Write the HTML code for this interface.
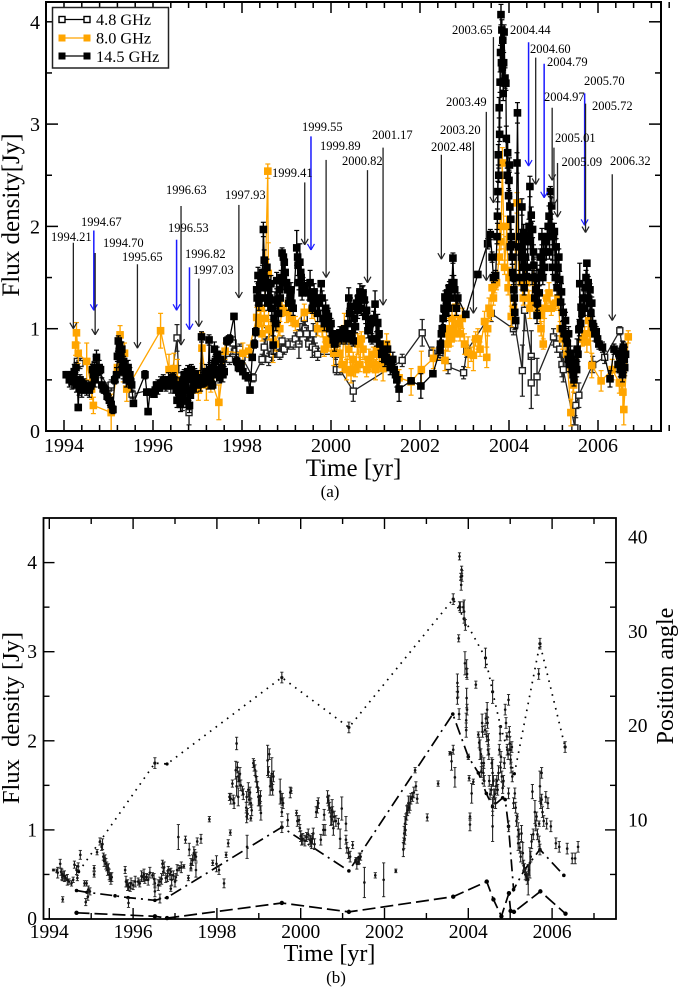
<!DOCTYPE html>
<html>
<head>
<meta charset="utf-8">
<title>Flux density light curves</title>
<style>
html,body{margin:0;padding:0;background:#fff;}
svg{display:block;}
text{font-family:"Liberation Serif",serif;fill:#000;}
</style>
</head>
<body>
<svg id="chart" xmlns="http://www.w3.org/2000/svg" width="679" height="987" viewBox="0 0 679 987">
<g id="a-back"></g>
<g id="a-arrows"></g>
<g id="a-ticks"></g>
<rect x="46" y="2" width="615" height="429" fill="none" stroke="#000" stroke-width="2"/>
<g font-size="12.5">
<text x="51" y="241">1994.21</text>
<text x="81" y="226">1994.67</text>
<text x="103" y="247">1994.70</text>
<text x="122" y="261">1995.65</text>
<text x="166" y="194">1996.63</text>
<text x="168" y="232">1996.53</text>
<text x="185" y="258">1996.82</text>
<text x="193" y="274">1997.03</text>
<text x="225" y="199">1997.93</text>
<text x="272" y="177">1999.41</text>
<text x="302" y="131">1999.55</text>
<text x="320" y="150">1999.89</text>
<text x="342" y="165">2000.82</text>
<text x="372" y="139">2001.17</text>
<text x="431" y="151">2002.48</text>
<text x="440" y="134">2003.20</text>
<text x="446" y="106">2003.49</text>
<text x="452" y="34">2003.65</text>
<text x="510" y="34">2004.44</text>
<text x="530" y="53">2004.60</text>
<text x="547" y="66">2004.79</text>
<text x="544" y="101">2004.97</text>
<text x="555" y="142">2005.01</text>
<text x="561.5" y="166">2005.09</text>
<text x="584" y="85">2005.70</text>
<text x="592" y="110">2005.72</text>
<text x="610" y="165">2006.32</text>
</g>
<g id="legend">
<rect x="52.5" y="7.5" width="116" height="60.5" fill="#fff" stroke="#222" stroke-width="1.5"/>
<g>
<line x1="62" y1="19.5" x2="87" y2="19.5" stroke="#000" stroke-width="1.2"/>
<rect x="59" y="16.5" width="6" height="6" fill="#fff" stroke="#000" stroke-width="1.4"/>
<rect x="84" y="16.5" width="6" height="6" fill="#fff" stroke="#000" stroke-width="1.4"/>
<text x="96" y="25" font-size="16.3">4.8 GHz</text>
</g>
<g>
<line x1="62" y1="38" x2="87" y2="38" stroke="#ffa500" stroke-width="1.2"/>
<rect x="58.5" y="34.5" width="7" height="7" fill="#ffa500"/>
<rect x="83.5" y="34.5" width="7" height="7" fill="#ffa500"/>
<text x="96" y="43.5" font-size="16.3">8.0 GHz</text>
</g>
<g>
<line x1="62" y1="56" x2="87" y2="56" stroke="#000" stroke-width="1.2"/>
<rect x="58.5" y="52.5" width="7" height="7" fill="#000"/>
<rect x="83.5" y="52.5" width="7" height="7" fill="#000"/>
<text x="96" y="62" font-size="16.3">14.5 GHz</text>
</g>
</g>
<text transform="translate(19,215) rotate(-90)" text-anchor="middle" font-size="25">Flux density[Jy]</text>
<text x="353.5" y="476" text-anchor="middle" font-size="25">Time [yr]</text>
<text x="330" y="497" text-anchor="middle" font-size="17">(a)</text>

<g id="b-lines"></g>
<g id="b-back"></g>
<g id="b-ticks"></g>
<rect x="43.5" y="518" width="572.5" height="401" fill="none" stroke="#000" stroke-width="1.8"/>
<text transform="translate(19,718) rotate(-90)" text-anchor="middle" font-size="24.5" xml:space="preserve">Flux  density [Jy]</text>
<text transform="translate(673,676) rotate(-90)" text-anchor="middle" font-size="24">Position angle</text>
<text x="329.5" y="961" text-anchor="middle" font-size="24">Time [yr]</text>
<text x="336" y="983" text-anchor="middle" font-size="17">(b)</text>
</svg>
<script>
/* ---------- panel (a) data ---------- */
var t14=[1994.05,1994.10,1994.15,1994.21,1994.25,1994.27,1994.30,1994.32,1994.36,1994.42,1994.48,1994.54,1994.60,1994.64,1994.68,1994.73,1994.76,1994.82,1994.88,1994.93,1994.97,1995.02,1995.06,1995.10,1995.14,1995.20,1995.22,1995.25,1995.28,1995.31,1995.34,1995.38,1995.42,1995.46,1995.50,1995.56,1995.82,1995.86,1995.89,1995.93,1996.02,1996.08,1996.14,1996.20,1996.26,1996.32,1996.38,1996.44,1996.50,1996.54,1996.58,1996.62,1996.66,1996.70,1996.74,1996.78,1996.82,1996.86,1996.90,1996.94,1997.00,1997.04,1997.09,1997.13,1997.18,1997.22,1997.26,1997.30,1997.34,1997.38,1997.42,1997.46,1997.50,1997.55,1997.60,1997.66,1997.72,1997.82,1997.88,1997.92,1997.98,1998.02,1998.08,1998.14,1998.18,1998.23,1998.28,1998.31,1998.33,1998.36,1998.40,1998.44,1998.48,1998.50,1998.53,1998.56,1998.60,1998.65,1998.70,1998.74,1998.78,1998.82,1998.86,1998.90,1998.93,1998.97,1999.02,1999.08,1999.12,1999.23,1999.26,1999.30,1999.33,1999.37,1999.53,1999.55,1999.58,1999.62,1999.70,1999.78,1999.82,1999.88,1999.94,2000.00,2000.05,2000.12,2000.20,2000.28,2000.34,2000.40,2000.44,2000.50,2000.55,2000.60,2000.65,2000.70,2000.75,2000.80,2000.85,2000.92,2000.99,2001.05,2001.10,2001.18,2001.24,2001.30,2001.36,2001.42,2001.53,2001.80,2002.02,2002.29,2002.45,2002.48,2002.52,2002.56,2002.60,2002.66,2002.70,2002.74,2002.78,2002.85,2003.03,2003.30,2003.52,2003.58,2003.62,2003.65,2003.70,2003.75,2003.76,2003.78,2003.80,2003.82,2003.84,2003.85,2003.86,2003.88,2003.91,2003.94,2003.97,2004.00,2004.02,2004.04,2004.06,2004.08,2004.11,2004.13,2004.15,2004.18,2004.19,2004.22,2004.29,2004.33,2004.36,2004.39,2004.43,2004.47,2004.50,2004.53,2004.56,2004.60,2004.63,2004.66,2004.70,2004.74,2004.78,2004.82,2004.86,2004.90,2004.93,2004.96,2005.00,2005.02,2005.06,2005.12,2005.14,2005.16,2005.18,2005.22,2005.27,2005.31,2005.34,2005.38,2005.42,2005.46,2005.48,2005.50,2005.53,2005.57,2005.59,2005.62,2005.67,2005.71,2005.75,2005.78,2005.82,2005.86,2005.90,2005.96,2006.02,2006.10,2006.27,2006.36,2006.47,2006.53,2006.57,2006.60];
var f14=[.55,.55,.52,.53,.50,.62,.48,.23,.50,.46,.43,.41,.44,.60,.62,.72,.58,.60,.42,.40,.34,.30,.26,.21,.50,.73,.88,.84,.75,.62,.68,.60,.55,.52,.48,.27,.55,.38,.19,.38,.36,.45,.42,.47,.50,.44,.47,.52,.45,.30,.38,.26,.48,.55,.30,.58,.25,.60,.42,.56,.50,.46,.92,.47,.55,.50,.89,.58,.45,.80,.60,.70,.52,.62,.58,.88,.90,1.12,.68,.62,.65,.58,.54,.52,.40,.72,.85,.97,1.38,1.52,1.30,1.45,1.97,1.67,1.48,1.60,1.40,1.44,.84,1.28,1.47,1.15,1.30,1.74,1.70,1.55,1.38,1.32,1.25,1.79,1.62,1.65,1.50,1.42,1.45,1.30,1.20,1.36,1.15,1.44,1.10,1.20,1.12,1.05,.89,.92,.96,.98,.90,1.30,1.22,.88,1.02,1.18,1.36,1.33,1.28,1.18,1.02,.90,1.24,1.06,.85,.78,.72,.68,.64,.60,.41,.49,.44,.56,.79,.95,1.10,1.31,1.25,1.40,1.38,1.69,1.38,1.30,1.14,1.53,1.83,1.92,1.70,1.50,1.52,2.34,2.70,3.16,3.41,4.07,3.92,3.55,3.82,3.60,3.45,2.86,2.72,2.45,2.19,2.07,1.82,1.55,1.38,1.16,1.08,2.62,3.11,1.80,2.19,1.94,1.86,1.51,1.90,2.39,2.11,1.97,1.62,1.38,1.13,1.50,1.70,1.90,1.75,1.85,1.90,2.10,2.34,2.20,1.90,1.95,1.80,1.70,1.48,1.26,1.36,1.16,1.08,.86,.95,.76,.60,.50,.62,.66,.80,.99,1.44,1.21,1.30,1.40,1.64,1.45,1.38,1.25,1.02,.97,.85,.82,.51,.80,.76,.72,.82,.62];
var e14=[.03,.03,.03,.04,.04,.05,.05,.03,.05,.04,.04,.04,.04,.05,.05,.07,.04,.04,.05,.04,.04,.05,.04,.04,.04,.05,.05,.04,.05,.05,.05,.05,.05,.05,.05,.03,.04,.03,.03,.03,.03,.03,.03,.03,.03,.03,.03,.04,.03,.07,.05,.07,.05,.05,.07,.06,.07,.05,.05,.05,.05,.04,.05,.04,.04,.04,.05,.05,.04,.07,.05,.05,.05,.05,.05,.04,.04,.03,.04,.04,.04,.03,.03,.03,.03,.03,.04,.04,.08,.08,.08,.08,.07,.10,.08,.08,.08,.08,.09,.08,.08,.09,.08,.05,.05,.08,.08,.08,.08,.17,.10,.18,.08,.08,.12,.08,.05,.08,.08,.03,.08,.08,.08,.05,.05,.06,.06,.05,.05,.10,.08,.05,.06,.08,.08,.08,.08,.08,.06,.05,.13,.08,.06,.05,.05,.05,.05,.05,.12,.03,.12,.03,.05,.06,.06,.06,.05,.06,.06,.05,.05,.05,.03,.03,.05,.05,.05,.05,.05,.10,.10,.10,.10,.10,.10,.10,.10,.10,.10,.12,.10,.10,.10,.10,.10,.08,.08,.08,.08,.10,.10,.08,.08,.08,.08,.08,.08,.10,.08,.08,.08,.08,.08,.08,.08,.08,.08,.08,.08,.10,.05,.08,.08,.08,.08,.08,.08,.08,.08,.08,.08,.08,.07,.07,.06,.06,.06,.06,.10,.10,.20,.10,.08,.08,.03,.06,.06,.06,.06,.05,.05,.05,.08,.05,.05,.05,.05,.05];
/* additional readings in the crowded stretches (default error bar) */
var t14Dense=[1994.12,1994.18,1994.23,1994.28,1994.34,1994.40,1994.45,1994.51,1994.57,1994.66,1994.70,1994.79,1994.85,1995.18,1995.24,1995.27,1995.30,1995.33,1995.36,1995.40,1995.44,1995.48,1995.52,1996.05,1996.11,1996.17,1996.23,1996.29,1996.35,1996.41,1996.47,1996.52,1996.60,1996.64,1996.68,1996.72,1996.76,1996.80,1996.84,1996.88,1996.92,1996.97,1997.02,1997.07,1997.11,1997.16,1997.20,1997.24,1997.28,1997.32,1997.36,1997.40,1997.44,1997.48,1997.52,1997.57,1998.34,1998.38,1998.42,1998.46,1998.52,1998.55,1998.58,1998.62,1998.67,1998.72,1998.76,1998.80,1998.84,1998.88,1998.92,1998.95,1999.00,1999.05,1999.10,1999.15,1999.25,1999.28,1999.32,1999.35,1999.40,1999.50,1999.60,1999.66,1999.74,1999.80,1999.85,1999.90,1999.97,2000.03,2000.08,2000.16,2000.24,2000.31,2000.38,2000.42,2000.47,2000.52,2000.58,2000.62,2000.68,2000.72,2000.78,2000.83,2000.88,2000.96,2001.02,2001.08,2001.14,2001.21,2001.27,2001.33,2001.39,2001.45,2001.48,2002.46,2002.50,2002.54,2002.58,2002.62,2002.64,2002.68,2002.72,2002.76,2002.82,2003.73,2003.74,2003.77,2003.79,2003.81,2003.83,2003.87,2003.89,2003.93,2003.96,2003.99,2004.01,2004.03,2004.05,2004.07,2004.10,2004.12,2004.24,2004.26,2004.28,2004.31,2004.34,2004.37,2004.41,2004.45,2004.48,2004.52,2004.55,2004.58,2004.61,2004.64,2004.68,2004.72,2004.76,2004.80,2004.84,2004.88,2004.91,2004.94,2004.98,2005.04,2005.08,2005.10,2005.20,2005.24,2005.29,2005.33,2005.36,2005.40,2005.44,2005.52,2005.55,2005.58,2005.61,2005.64,2005.69,2005.73,2005.77,2005.80,2005.84,2005.88,2005.93,2005.99,2006.45,2006.50,2006.55,2006.59,2006.62];
var f14Dense=[.50,.48,.58,.45,.42,.40,.44,.42,.40,.55,.50,.62,.45,.55,.78,.70,.80,.58,.62,.50,.62,.55,.45,.40,.43,.46,.48,.46,.50,.48,.50,.40,.45,.35,.30,.42,.52,.40,.35,.50,.48,.45,.52,.46,.50,.52,.58,.48,.60,.62,.55,.68,.75,.58,.70,.55,1.30,1.25,1.40,1.55,1.30,1.45,1.25,1.30,1.20,1.10,1.05,1.25,1.38,1.50,1.45,1.65,1.45,1.25,1.38,1.20,1.70,1.45,1.55,1.35,1.40,1.35,1.25,1.30,1.25,1.30,1.05,1.15,1.00,.95,.85,.90,.92,.95,1.05,1.15,.95,1.10,1.25,1.30,1.20,1.35,1.12,.98,1.05,1.10,.90,.95,.75,.70,.80,.62,.70,.55,.50,.85,1.00,1.20,1.15,1.35,1.20,1.30,1.45,1.45,1.20,1.90,2.10,2.50,2.90,3.70,3.60,3.30,3.90,3.40,2.50,2.30,2.60,1.80,1.90,1.70,1.50,1.30,1.50,1.90,1.70,1.60,1.40,1.70,1.60,2.00,1.85,1.50,1.75,1.30,1.50,1.25,1.35,1.55,1.50,1.60,1.75,2.00,1.75,2.00,1.60,1.50,1.40,1.60,1.00,.95,.90,.70,.65,.70,.55,.60,.75,1.00,1.05,1.15,1.20,1.50,1.30,1.25,1.15,1.05,.95,.90,.65,.60,.55,.70,.75];
var t8=[1994.26,1994.28,1994.32,1994.51,1994.62,1994.66,1995.06,1995.20,1995.26,1995.33,1995.36,1995.41,1996.17,1996.36,1996.47,1996.55,1996.70,1997.02,1997.10,1997.20,1997.30,1997.48,1997.62,1998.02,1998.15,1998.33,1998.42,1998.58,1998.59,1998.60,1998.70,1998.90,1999.00,1999.40,1999.57,1999.80,1999.90,2000.06,2000.20,2000.30,2000.35,2000.45,2000.60,2000.72,2000.85,2001.00,2001.17,2001.25,2001.53,2001.80,2002.03,2002.30,2002.56,2002.66,2002.72,2002.80,2002.95,2003.00,2003.08,2003.20,2003.30,2003.45,2003.50,2003.55,2003.62,2003.68,2003.80,2003.85,2003.95,2004.00,2004.05,2004.18,2004.35,2004.47,2004.60,2004.70,2004.77,2004.80,2004.90,2005.10,2005.20,2005.39,2005.50,2005.75,2005.79,2005.86,2006.07,2006.32,2006.48,2006.52,2006.56,2006.58,2006.68];
var f8=[.84,.96,.76,.68,.41,.25,.18,.62,.94,.58,.76,.41,.98,.60,.61,.50,.40,.40,.81,.45,.50,.28,.78,.76,.78,1.11,1.20,2.54,1.54,.99,.87,1.20,1.16,1.16,1.18,1.00,.89,.76,.76,1.00,.60,.57,.85,.80,.70,.60,.61,.85,.52,.48,.60,.71,.69,1.00,1.10,1.21,1.10,.85,.77,.74,.90,1.07,.72,1.20,1.40,1.43,2.00,2.62,2.00,1.50,1.12,2.23,1.60,1.20,1.40,1.13,.85,1.20,1.35,1.30,.90,.18,.60,.87,1.08,.64,.49,.60,.47,.47,.38,.21,.92];
var e8=[.10,.10,.10,.18,.10,.08,.18,.10,.09,.10,.10,.12,.17,.15,.15,.20,.10,.10,.15,.15,.12,.17,.08,.10,.06,.10,.10,.07,.30,.10,.20,.08,.10,.08,.08,.08,.10,.12,.10,.15,.10,.10,.10,.10,.10,.10,.12,.10,.08,.13,.18,.10,.10,.10,.10,.10,.10,.10,.15,.15,.10,.10,.10,.10,.10,.08,.12,.15,.10,.10,.10,.10,.08,.10,.08,.08,.05,.10,.10,.10,.10,.13,.10,.10,.10,.12,.10,.10,.10,.10,.15,.15,.06];
var t8Dense=[1998.38,1998.45,1998.50,1998.65,1998.75,1998.85,1999.10,1999.20,1999.70,1999.85,1999.95,2000.10,2000.25,2000.40,2000.50,2000.55,2000.65,2000.68,2000.80,2000.90,2000.95,2001.05,2001.10,2002.60,2002.63,2002.70,2002.75,2002.78,2002.85,2002.90,2003.15,2003.25,2003.35,2003.52,2003.58,2003.65,2003.72,2003.78,2003.82,2003.90,2003.98,2004.10,2004.22,2004.28,2004.32,2004.40,2004.45,2004.50,2004.55,2004.65,2004.72,2004.85,2004.95,2005.05,2005.15,2005.30,2005.45,2005.65,2005.70,2005.82];
var f8Dense=[1.05,.95,1.10,1.00,.85,1.00,1.10,1.05,1.00,.80,.85,.85,.65,.80,.70,.60,.65,.90,.60,.65,.75,.80,.65,.95,.85,.90,1.00,.95,1.05,.95,.75,.90,.80,1.00,1.15,1.30,1.45,1.70,1.85,1.60,1.40,1.20,1.50,1.45,1.30,1.45,1.30,1.25,1.50,1.20,1.00,1.30,1.20,1.25,1.00,.75,.45,.90,.95,.95];
var t48=[1994.30,1994.36,1994.70,1995.00,1995.06,1995.26,1995.33,1995.40,1995.53,1996.40,1996.54,1996.58,1996.66,1996.72,1996.81,1996.84,1997.72,1997.80,1997.86,1997.95,1998.00,1998.25,1998.45,1998.50,1998.55,1998.60,1998.68,1998.72,1998.78,1998.85,1998.90,1998.95,1999.05,1999.15,1999.20,1999.28,1999.30,1999.40,1999.42,1999.45,1999.50,1999.58,1999.60,1999.65,1999.70,2000.10,2000.12,2000.20,2000.50,2001.60,2002.05,2002.27,2002.45,2002.63,2002.98,2003.05,2003.60,2004.10,2004.13,2004.30,2004.35,2004.50,2004.50,2004.63,2005.00,2005.07,2005.14,2005.19,2005.22,2005.48,2005.50,2005.57,2005.88,2006.15,2006.49,2006.55,2006.60];
var f48=[.68,.66,.65,.42,.45,.60,.66,.62,.36,.45,.91,.54,.30,.36,.18,.45,.70,.86,.78,.80,.72,.52,.70,.82,.95,.70,.75,.78,.82,.75,.88,.80,.85,.85,.90,.85,.95,1.10,1.00,.95,.85,.82,.95,.80,.75,.75,.60,.60,.39,.69,.96,.76,.75,.63,.57,.78,1.15,1.00,1.04,.59,1.18,.73,.47,.53,.92,.85,.80,.65,.60,.03,.25,.35,.65,.72,.98,.80,.62];
var e48=[.05,.05,.08,.05,.05,.06,.06,.06,.04,.08,.13,.10,.10,.10,.12,.08,.05,.06,.05,.05,.05,.04,.05,.08,.06,.06,.06,.06,.06,.05,.05,.05,.05,.05,.06,.14,.10,.06,.08,.06,.06,.10,.10,.06,.06,.05,.05,.05,.10,.06,.13,.06,.06,.07,.06,.06,.08,.06,.05,.25,.20,.25,.25,.18,.08,.08,.08,.12,.12,.12,.12,.12,.08,.06,.04,.08,.08];
/* flare arrows: year label value, flux at tail and at tip, colour class */
var annYears=[1994.21,1994.67,1994.70,1995.65,1996.63,1996.53,1996.82,1997.03,1997.93,1999.41,1999.55,1999.89,2000.82,2001.17,2002.48,2003.20,2003.49,2003.65,2004.44,2004.60,2004.79,2004.97,2005.01,2005.09,2005.70,2005.72,2006.32];
var annTail=[1.84,1.96,1.74,1.63,2.20,1.87,1.60,1.49,2.21,2.43,2.88,2.65,2.55,2.77,2.70,2.83,3.12,3.85,3.80,3.65,3.59,3.16,2.77,2.62,3.30,3.20,2.51];
var annTip=[1.00,1.18,.94,.81,.84,1.18,.99,1.02,1.30,1.82,1.77,1.50,1.45,1.23,1.68,1.15,1.47,2.23,2.59,2.41,2.28,2.45,2.21,2.09,2.01,1.94,1.08];
var annBlue=[0,1,0,0,0,1,1,0,0,0,1,0,0,0,0,0,0,0,1,0,1,0,0,0,1,0,0];
/* ---------- panel (b) data ---------- */
var tB=[1994.10,1994.18,1994.26,1994.28,1994.31,1994.33,1994.39,1994.47,1994.53,1994.57,1994.32,1994.60,1994.65,1994.69,1994.67,1994.74,1994.84,1994.89,1994.87,1994.93,1994.97,1994.92,1995.07,1995.07,1995.14,1995.21,1995.25,1995.29,1995.33,1995.37,1995.41,1995.45,1995.49,1995.81,1995.85,1995.89,1995.89,1995.93,1996.00,1996.12,1996.16,1996.24,1996.28,1996.32,1996.46,1996.52,1996.52,1996.64,1996.64,1996.70,1996.72,1996.78,1996.84,1996.90,1996.90,1996.96,1997.02,1997.10,1997.08,1997.21,1997.25,1997.32,1997.34,1997.38,1997.45,1997.50,1997.50,1997.53,1997.62,1997.82,1997.90,1997.99,1998.05,1998.17,1998.22,1998.27,1998.32,1998.37,1998.30,1998.39,1998.47,1998.45,1998.47,1998.51,1998.51,1998.55,1998.61,1998.71,1998.71,1998.75,1998.77,1998.81,1998.81,1998.87,1998.91,1998.95,1998.99,1999.03,1999.05,1998.72,1999.21,1999.31,1999.27,1999.31,1999.51,1999.56,1999.55,1999.69,1999.77,1999.90,1999.96,1999.98,2000.02,2000.14,2000.22,2000.26,2000.30,2000.40,2000.48,2000.54,2000.56,2000.64,2000.67,2000.72,2000.78,2000.75,2000.90,2000.94,2000.98,2001.08,2001.08,2001.14,2001.24,2001.32,2001.38,2001.43,2001.52,2001.78,2001.98,2002.27,2002.45,2002.47,2002.49,2002.53,2002.57,2002.61,2002.67,2002.75,2002.78,2002.73,2003.02,2003.28,2003.56,2003.60,2003.64,2003.68,2003.74,2003.74,2003.77,2003.79,2003.82,2003.84,2003.79,2003.90,2003.92,2003.96,2003.95,2003.96,2003.95,2004.00,2004.02,2004.08,2004.04,2004.04,2004.12,2004.18,2004.24,2004.28,2004.32,2004.33,2004.36,2004.40,2004.41,2004.45,2004.48,2004.58,2004.58,2004.58,2004.58,2004.61,2004.66,2004.72,2004.76,2004.78,2004.82,2004.88,2004.96,2004.92,2004.99,2005.01,2004.96,2004.96,2005.04,2005.11,2005.17,2005.19,2005.19,2005.27,2005.30,2005.34,2005.39,2005.43,2005.47,2005.51,2005.53,2005.59,2005.63,2005.69,2005.71,2005.75,2005.75,2005.85,2005.87,2005.97,2006.09,2006.17,2006.36,2006.48,2006.55,2006.62,2005.69,2005.71,2005.68,2005.71,2006.31,1996.52,1999.55,1999.55,2001.15,2003.64];
var fB=[.55,.54,.62,.53,.47,.49,.46,.42,.40,.44,.22,.61,.55,.59,.46,.72,.40,.40,.19,.33,.31,.25,.57,.50,.75,.87,.81,.70,.68,.59,.57,.47,.47,.55,.40,.36,.18,.36,.38,.42,.40,.47,.44,.47,.49,.40,.31,.42,.23,.62,.53,.46,.55,.53,.34,.49,.47,.57,.92,.59,.89,.46,.78,.57,.74,.70,.55,.87,.90,1.12,.63,.62,.55,.40,.72,.85,.97,1.52,1.37,1.34,1.97,1.67,1.49,1.60,1.37,1.63,1.44,1.37,1.15,1.45,1.34,1.30,1.13,1.75,1.67,1.54,1.37,1.30,1.19,.81,1.78,1.63,1.49,1.52,1.43,1.34,1.20,1.11,1.44,1.19,1.11,1.02,.89,.92,.89,.85,.96,1.26,.89,1.00,1.17,1.37,1.30,1.15,1.02,1.22,1.07,.90,1.24,1.07,.89,.74,.83,.66,.64,.70,.41,.49,.44,.54,.78,.96,1.07,1.19,1.30,1.30,1.37,1.49,1.35,1.67,1.14,1.52,1.86,1.77,1.90,1.59,2.48,2.65,3.15,4.07,3.84,3.92,3.51,3.45,2.87,2.81,2.23,2.48,2.12,1.82,1.58,1.41,1.15,1.06,1.54,2.63,2.07,1.90,1.75,2.20,1.64,2.12,2.93,2.35,2.01,2.55,1.64,1.26,1.04,1.37,1.49,1.64,2.08,1.82,1.47,2.35,2.46,2.05,1.97,1.79,1.41,1.04,1.93,1.41,1.15,1.00,.85,.96,.74,.57,.48,.44,.63,.87,1.43,1.20,1.15,1.07,1.49,1.64,1.34,1.37,1.07,1.04,.85,.81,.79,.68,.68,.81,.87,.78,2.75,3.09,1.93,1.75,2.71,1.03,2.15,3.59];
var eB=[.01,.02,.05,.04,.04,.04,.03,.03,.03,.03,.03,.04,.05,.04,.03,.05,.03,.03,.04,.04,.04,.04,.03,.03,.03,.04,.04,.04,.04,.05,.05,.05,.05,.04,.04,.04,.05,.05,.05,.04,.04,.05,.04,.04,.03,.05,.06,.05,.05,.04,.04,.05,.04,.04,.03,.05,.04,.03,.14,.02,.04,.03,.07,.03,.07,.05,.08,.04,.05,.03,.03,.09,.05,.05,.03,.04,.03,.04,.04,.05,.07,.10,.11,.06,.10,.07,.05,.06,.07,.08,.06,.05,.03,.05,.06,.06,.10,.08,.08,.13,.17,.18,.10,.08,.14,.07,.05,.07,.03,.03,.05,.04,.06,.05,.05,.06,.06,.07,.06,.06,.06,.07,.08,.10,.08,.12,.06,.11,.13,.08,.05,.06,.04,.03,.03,.04,.17,.03,.19,.02,.08,.08,.08,.08,.08,.08,.05,.05,.05,.03,.04,.03,.02,.10,.05,.11,.07,.10,.04,.04,.04,.04,.05,.13,.13,.10,.08,.11,.08,.03,.03,.11,.04,.07,.03,.04,.03,.11,.08,.10,.08,.05,.11,.08,.07,.13,.15,.10,.17,.08,.08,.08,.08,.06,.06,.06,.06,.04,.08,.05,.06,.06,.06,.06,.03,.08,.08,.09,.12,.05,.05,.17,.17,.08,.08,.13,.05,.03,.17];
var tBDense=[1994.20,1994.30,1994.36,1994.43,1995.27,1995.31,1995.35,1995.39,1995.43,1995.47,1995.83,1995.87,1995.95,1996.05,1996.20,1996.26,1996.36,1996.40,1996.50,1996.60,1996.68,1996.74,1996.82,1996.88,1996.92,1997.00,1997.05,1997.15,1997.38,1997.42,1997.47,1998.33,1998.41,1998.49,1998.53,1998.57,1998.63,1998.70,1998.73,1998.79,1998.83,1998.89,1998.93,1998.97,1999.01,1999.04,1999.23,1999.25,1999.29,1999.33,1999.35,1999.53,1999.58,1999.75,1999.92,2000.00,2000.05,2000.10,2000.18,2000.24,2000.28,2000.33,2000.37,2000.42,2000.58,2000.66,2000.69,2000.74,2000.76,2000.80,2000.84,2001.10,2001.18,2001.34,2001.40,2002.46,2002.48,2002.50,2002.51,2002.55,2002.59,2002.63,2002.70,2003.75,2003.78,2003.81,2003.83,2003.85,2003.88,2003.93,2003.97,2003.97,2004.26,2004.30,2004.31,2004.34,2004.37,2004.38,2004.42,2004.44,2004.46,2004.47,2004.49,2004.50,2004.52,2004.55,2004.56,2004.60,2004.63,2004.65,2004.68,2004.70,2004.74,2004.77,2004.80,2004.84,2004.86,2004.90,2004.93,2004.95,2004.98,2005.00,2005.02,2005.05,2005.08,2005.13,2005.15,2005.21,2005.23,2005.25,2005.32,2005.36,2005.41,2005.45,2005.49,2005.55,2005.61,2005.65,2005.73,2005.77,2005.80,2005.90];
var fBDense=[.52,.50,.48,.44,.84,.65,.62,.55,.50,.45,.42,.38,.40,.42,.48,.50,.44,.52,.45,.38,.45,.58,.48,.50,.44,.42,.55,.58,.62,.66,.72,1.35,1.30,1.70,1.55,1.50,1.40,1.25,1.18,1.42,1.22,1.72,1.60,1.48,1.33,1.38,1.65,1.85,1.55,1.45,1.60,1.35,1.30,1.42,1.10,.93,.90,.88,.95,.87,.90,.84,1.20,1.30,1.00,1.33,1.25,1.12,1.20,1.15,1.10,.80,.70,.62,.68,.85,.90,1.00,1.12,1.22,1.25,1.35,1.42,2.55,2.30,3.50,3.75,3.85,3.50,3.30,2.75,2.35,1.98,1.85,1.65,2.10,1.75,1.55,2.25,2.05,2.20,1.90,1.85,1.55,1.40,1.45,1.75,1.55,1.40,1.30,1.55,1.45,1.90,1.70,1.60,1.55,1.75,2.20,1.90,1.85,2.10,1.90,1.70,1.60,1.30,1.25,1.10,.95,.80,.70,.60,.50,.45,.55,.70,.95,1.05,.95,1.30,1.20,1.10,1.30];
var dotT=[1994.70,1996.52,1996.81,1999.55,2001.15,2003.64,2003.90,2004.41,2004.58,2004.77,2005.10,2005.71,2006.31];
var dotF=[.53,1.75,1.74,2.71,2.15,3.59,3.37,2.93,2.55,2.16,1.63,3.09,1.93];
var dashDotT=[1994.65,1994.90,1995.57,1995.88,1996.52,1996.81,1999.55,2001.15,2001.32,2003.63,2004.00,2004.24,2004.43,2004.58,2004.82,2004.88,2004.96,2005.08,2005.34,2005.71,2006.28];
var dashDotF=[.32,.30,.26,.24,.21,.24,1.03,.54,.66,2.30,1.82,1.64,1.41,1.26,1.36,1.34,1.04,.33,.55,.78,.49];
var dashT=[1994.65,1996.52,1996.81,1999.55,2001.15,2003.64,2004.44,2004.60,2004.79,2004.97,2005.01,2005.09,2005.72,2006.32];
var dashF=[.07,.03,.01,.18,.08,.25,.42,.22,.03,.29,.09,.08,.31,.06];
/* ---------- tick values ---------- */
var yearTicks=[1994,1996,1998,2000,2002,2004,2006];
var yearLabels=['1994','1996','1998','2000','2002','2004','2006'];
var fluxTicks=[0,1,2,3,4];
var fluxLabels=['0','1','2','3','4'];
var angleTicks=[10,20,30,40];
var angleLabels=['10','20','30','40'];

var NS='http://www.w3.org/2000/svg';
function xA(t){return 64+(t-1994)*44.5;}
function yA(f){return 431-f*102.3;}
function xB(t){return 49.3+(t-1994)*41.9;}
function yB(f){return 919-f*89.1;}
function yAngle(a){return 914.3-a*9.43;}
function el(name,parent){var e=document.createElementNS(NS,name);parent.appendChild(e);return e;}
function seg(parent,x1,y1,x2,y2,color,w){
  var l=el('line',parent);
  l.setAttribute('x1',x1);l.setAttribute('y1',y1);l.setAttribute('x2',x2);l.setAttribute('y2',y2);
  l.setAttribute('stroke',color);l.setAttribute('stroke-width',w);
  return l;
}
function drawSeries(parent,tsIn,fsIn,esIn,color,open,seriesName){
  var g=el('g',parent);
  
  
  var order=tsIn.map(function(_,i){return i;}).sort(function(a,b){return tsIn[a]-tsIn[b];});
  var pts=order.map(function(i){return xA(tsIn[i]).toFixed(1)+','+yA(fsIn[i]).toFixed(1);});
  var pl=el('polyline',g);
  pl.setAttribute('points',pts.join(' '));
  pl.setAttribute('fill','none');pl.setAttribute('stroke',color);pl.setAttribute('stroke-width','1.3');
  
  
  order.forEach(function(j){
    var err=(esIn[j]===undefined)?0.07:esIn[j];
    var x=xA(tsIn[j]),yh=yA(fsIn[j]+err),yl=yA(Math.max(0,fsIn[j]-err));
    seg(g,x,yh,x,yl,color,1.4);
    seg(g,x-2.5,yh,x+2.5,yh,color,1.2);
    seg(g,x-2.5,yl,x+2.5,yl,color,1.2);
    var r=el('rect',g);
    
    
    if(open){
      r.setAttribute('x',x-3);r.setAttribute('y',yA(fsIn[j])-3);r.setAttribute('width',6);r.setAttribute('height',6);
      r.setAttribute('fill','#fff');r.setAttribute('stroke',color);r.setAttribute('stroke-width',1.4);
    }else{
      r.setAttribute('x',x-3.8);r.setAttribute('y',yA(fsIn[j])-3.8);r.setAttribute('width',7.6);r.setAttribute('height',7.6);
      r.setAttribute('fill',color);
    }
  });
}
var aBack=document.getElementById('a-back');
drawSeries(aBack,t48,f48,e48,'#222',true,'series-4-8-ghz');
drawSeries(aBack,t8.concat(t8Dense),f8.concat(f8Dense),e8,'#ffa500',false,'series-8-0-ghz');
drawSeries(aBack,t14.concat(t14Dense),f14.concat(f14Dense),e14,'#000',false,'series-14-5-ghz');

var aArrows=document.getElementById('a-arrows');
for(var k=0;k<annYears.length;k++){
  var ax=xA(annYears[k]),ay0=yA(annTail[k]),ay1=yA(annTip[k]),col=annBlue[k]?'#1a1aff':'#222';
  var ag=el('g',aArrows);
  
  
  seg(ag,ax,ay0,ax,ay1,col,annBlue[k]?1.5:1.3);
  seg(ag,ax-3.5,ay1-6,ax,ay1,col,1.2);
  seg(ag,ax+3.5,ay1-6,ax,ay1,col,1.2);
}

function axisText(parent,x,y,anchor,size,str,name){
  var t=el('text',parent);
  t.setAttribute('x',x);t.setAttribute('y',y);t.setAttribute('text-anchor',anchor);t.setAttribute('font-size',size);
  t.textContent=str;
  
  
  return t;
}
/* panel a axes */
var aT=document.getElementById('a-ticks');
for(var q=0;q<35;q++){
  var yr=1994+q*0.4,maj=(q%5===0),len=maj?11:6,xq=xA(yr);
  seg(aT,xq,431,xq,431-len,'#000',1.5);
  seg(aT,xq,2,xq,2+len,'#000',1.5);
}
for(var m=1;m<=8;m++){
  var fv=m*0.5,ml=(m%2===0)?12:6,ym=yA(fv);
  seg(aT,46,ym,46+ml,ym,'#000',1.5);
  seg(aT,661,ym,661-ml,ym,'#000',1.5);
}
yearTicks.forEach(function(y,i){axisText(aT,xA(y),452,'middle',20,yearLabels[i],'x-tick-label');});
fluxTicks.forEach(function(v,i){axisText(aT,40,yA(v)+7,'end',20,fluxLabels[i],'y-tick-label');});
/* panel b axes */
var bT=document.getElementById('b-ticks');
for(var n=0;n<14;n++){
  var yb=1994+n,mj=(n%2===0),lb=mj?11:6,xb=xB(yb);
  seg(bT,xb,919,xb,919-lb,'#000',1.4);
  seg(bT,xb,518,xb,518+lb,'#000',1.4);
}
for(var p=1;p<=8;p++){
  var fb=p*0.5,lc=(p%2===0)?11:6,yc=yB(fb);
  seg(bT,43.5,yc,43.5+lc,yc,'#000',1.4);
  seg(bT,616,yc,616-lc,yc,'#000',1.4);
}
yearTicks.forEach(function(y,i){axisText(bT,xB(y),938,'middle',19.5,yearLabels[i],'x-tick-label');});
fluxTicks.forEach(function(v,i){axisText(bT,37,(v===0?925:yB(v)+6.5),'end',19.5,fluxLabels[i],'y-tick-label');});
angleTicks.forEach(function(a,i){axisText(bT,628,yAngle(a)+6.5,'start',19.5,angleLabels[i],'right-y-tick-label');});

/* panel b series */
var bBack=document.getElementById('b-back');
var tBAll=tB.concat(tBDense),fBAll=fB.concat(fBDense);
for(var b=0;b<tBAll.length;b++){
  var err=(eB[b]===undefined)?0.06:eB[b];
  var bx=xB(tBAll[b]),by=yB(fBAll[b]),bh=yB(fBAll[b]+err),bl=yB(fBAll[b]-err);
  seg(bBack,bx,bh,bx,bl,'#222',1.1);
  seg(bBack,bx-1.6,bh,bx+1.6,bh,'#222',0.9);
  seg(bBack,bx-1.6,bl,bx+1.6,bl,'#222',0.9);
  var d=el('circle',bBack);
  d.setAttribute('cx',bx);d.setAttribute('cy',by);d.setAttribute('r',1.3);d.setAttribute('fill','#111');
  
  
}
function drawLine(ts,fs,dash,w,name,dotR){
  var g=el('g',document.getElementById('b-lines'));
  
  
  var pts=[];
  for(var i=0;i<ts.length;i++){pts.push(xB(ts[i]).toFixed(1)+','+yB(fs[i]).toFixed(1));}
  var pl=el('polyline',g);
  pl.setAttribute('points',pts.join(' '));
  pl.setAttribute('fill','none');pl.setAttribute('stroke','#000');pl.setAttribute('stroke-width',w);
  pl.setAttribute('stroke-dasharray',dash);
  
  
  for(var j=0;j<ts.length;j++){
    var c=el('circle',g);
    c.setAttribute('cx',xB(ts[j]));c.setAttribute('cy',yB(fs[j]));c.setAttribute('r',dotR);c.setAttribute('fill','#000');
    
    
  }
}
drawLine(dotT,dotF,'1.6 5.5',1.7,'position-angle-dotted',1.6);
drawLine(dashDotT,dashDotF,'12 5 2 5',1.7,'position-angle-dash-dot',1.8);
drawLine(dashT,dashF,'13 5',1.7,'position-angle-dashed',2.2);
</script>
</body>
</html>
